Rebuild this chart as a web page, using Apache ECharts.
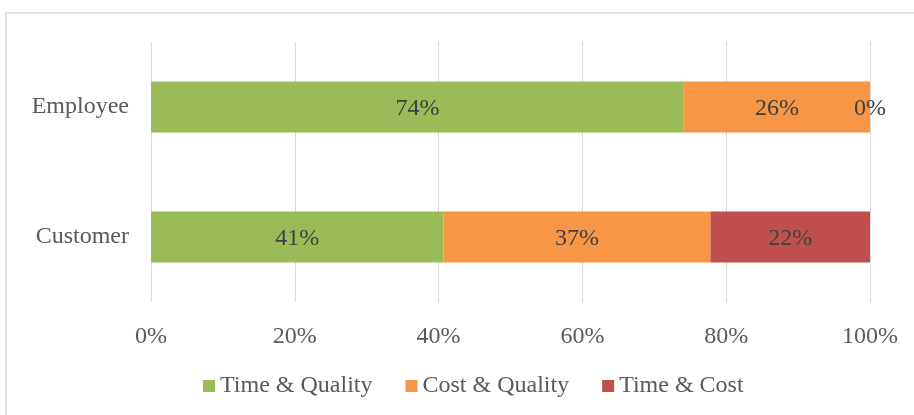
<!DOCTYPE html>
<html><head><meta charset="utf-8">
<script src="https://cdn.jsdelivr.net/npm/echarts@6/dist/echarts.min.js"></script>
<style>html,body{margin:0;padding:0;background:#fff}#c{width:914px;height:415px}</style>
</head><body><div id="c"></div>
<script>
const categories = ['Customer', 'Employee'];
const timeQuality = [40.7, 74.1];
const costQuality = [37.1, 25.9];
const timeCost = [22.2, 0];
const xTicks = [0, 20, 40, 60, 80, 100];

const FONT = '"Liberation Serif", serif';
const chart = echarts.init(document.getElementById('c'), null, {renderer: 'canvas'});
const lbl = {
  show: true, position: 'inside', color: '#404040', fontFamily: FONT, fontSize: 24,
  offset: [0, 2],
  formatter: p => Math.round(p.value) + '%'
};
function ser(name, data, color) {
  return {name, type: 'bar', stack: 'a', data, barWidth: 51,
    itemStyle: {color}, label: lbl, emphasis: {disabled: true}};
}
chart.setOption({
  animation: false,
  graphic: [{type: 'rect', shape: {x: 6, y: 13, width: 1000, height: 500},
    style: {fill: 'none', stroke: '#d9d9d9', lineWidth: 1.5}, silent: true, z: -10}],
  grid: {left: 151, right: 44, top: 42, height: 260},
  legend: {left: 198, top: 369, itemWidth: 12, itemHeight: 12, itemGap: 33,
    icon: 'rect',
    textStyle: {fontFamily: FONT, fontSize: 24, color: '#595959'},
    data: ['Time & Quality', 'Cost & Quality', 'Time & Cost']},
  xAxis: {type: 'value', min: 0, max: 100, interval: 20,
    axisLine: {show: false}, axisTick: {show: false},
    splitLine: {lineStyle: {color: '#d9d9d9', width: 1}},
    axisLabel: {formatter: v => xTicks.includes(v) ? v + '%' : '', margin: 23,
      fontFamily: FONT, fontSize: 24, color: '#595959'}},
  yAxis: {type: 'category', data: categories,
    axisLine: {show: false}, axisTick: {show: false},
    axisLabel: {margin: 22, fontFamily: FONT, fontSize: 24, color: '#595959'}},
  series: [
    ser('Time & Quality', timeQuality, '#9BBB59'),
    ser('Cost & Quality', costQuality, '#F79646'),
    ser('Time & Cost', timeCost, '#C0504D')
  ]
});
</script></body></html>
